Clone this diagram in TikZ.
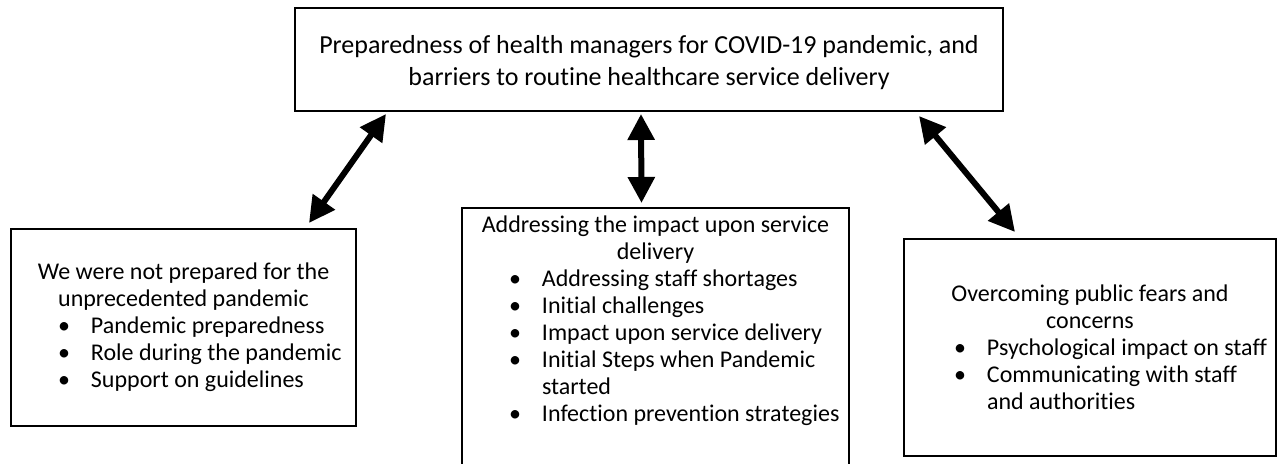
\documentclass[tikz,border=0pt]{standalone}
\usepackage{fontspec}
\setmainfont[Ligatures=NoCommon]{Carlito}
\usetikzlibrary{arrows.meta}
\newcommand{\bul}[1]{\makebox[16.5pt][l]{\textbullet}\mbox{#1}}

\begin{document}
\begin{tikzpicture}[x=0.5pt,y=-0.5pt,>={Triangle[length=13pt,width=13pt]},
    theme/.style={draw,line width=1pt,inner sep=4pt,font=\fontsize{12}{13.5}\selectfont},
    link/.style={<->,line width=3pt}]
    \useasboundingbox (0,0) rectangle (1282,464);
    \node[theme,font=\fontsize{13}{16}\selectfont] (main) at (649,59.5)
        {\parbox[c][43.5pt][c]{346pt}{\vspace*{3.5pt}\centering Preparedness of health managers for COVID-19 pandemic, and\\barriers to routine healthcare service delivery}};
    \node[theme,anchor=north west] (prep) at (10,228)
        {\parbox[c][90.5pt][c]{164.5pt}{\centering We were not prepared for the\\unprecedented pandemic\par\raggedright
        \hspace*{19.5pt}\bul{Pandemic preparedness}\\
        \hspace*{19.5pt}\bul{Role during the pandemic}\\
        \hspace*{19.5pt}\bul{Support on guidelines}}};
    \node[theme,anchor=north west] (impact) at (461,207)
        {\parbox[c][126pt][t]{185.5pt}{\centering Addressing the impact upon service\\delivery\par\raggedright
        \hspace*{19.5pt}\bul{Addressing staff shortages}\\
        \hspace*{19.5pt}\bul{Initial challenges}\\
        \hspace*{19.5pt}\bul{Impact upon service delivery}\\
        \hspace*{19.5pt}\bul{Initial Steps when Pandemic}\\
        \hspace*{36pt}started\\
        \hspace*{19.5pt}\bul{Infection prevention strategies}}};
    \node[theme,anchor=north west] (fears) at (903,238)
        {\parbox[c][100.5pt][c]{178pt}{\centering Overcoming public fears and\\concerns\par\raggedright
        \hspace*{21pt}\bul{Psychological impact on staff}\\
        \hspace*{21pt}\bul{Communicating with staff}\\
        \hspace*{37.5pt}and authorities}};
    \draw[link] ([xshift=46pt,yshift=-1pt]main.south west) -- ([xshift=-24pt,yshift=2.5pt]prep.north east);
    \draw[link] ([xshift=-4pt,yshift=-1pt]main.south) -- ([xshift=-7pt,yshift=2pt]impact.north);
    \draw[link] ([xshift=-42.5pt,yshift=-2pt]main.south east) -- ([xshift=56pt,yshift=3pt]fears.north west);
\end{tikzpicture}
\end{document}
